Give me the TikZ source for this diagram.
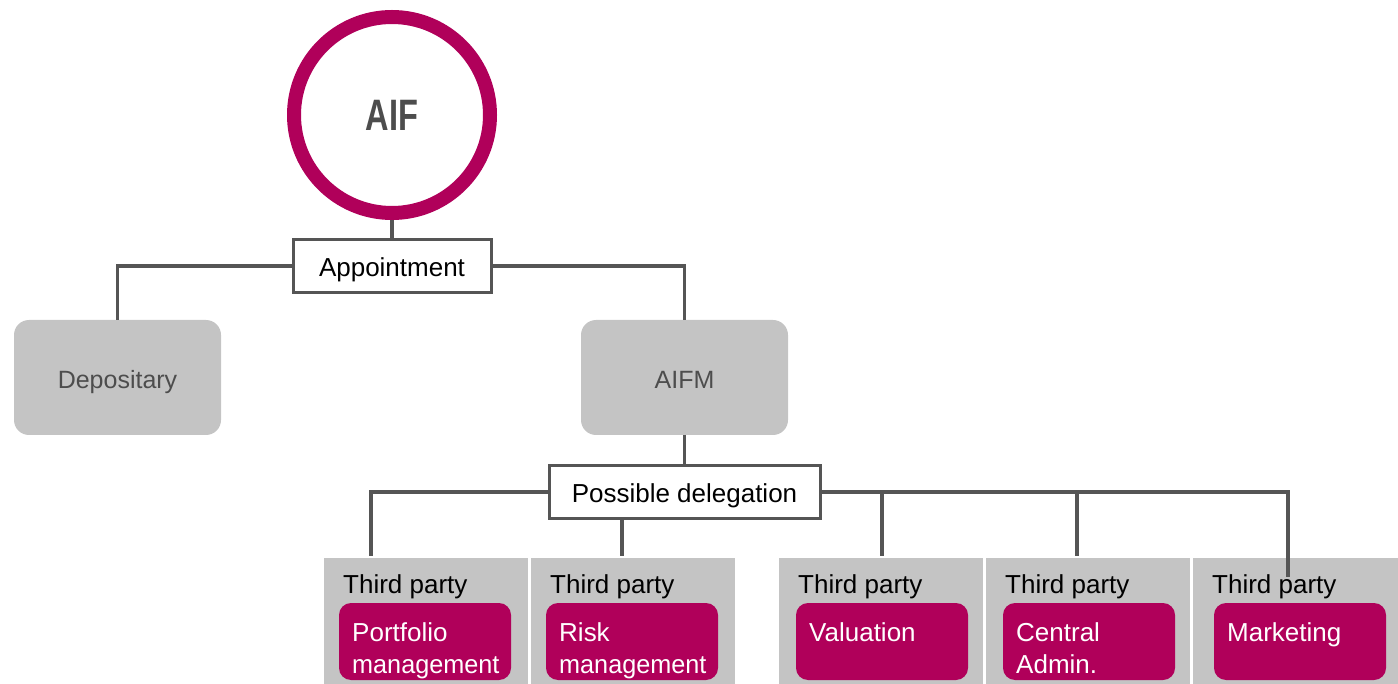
\documentclass[tikz,border=0pt]{standalone}
\usepackage{fontspec}
\usepackage{graphicx}
\setmainfont{Liberation Sans}
\definecolor{mag}{HTML}{B0005A}
\definecolor{lgray}{HTML}{C4C4C4}
\definecolor{lineg}{HTML}{555555}
\definecolor{txtg}{HTML}{4D4D4D}
\begin{document}
\begin{tikzpicture}[x=1pt,y=-1pt,
 conn/.style={draw=lineg, line width=3.5pt},
 labbox/.style={draw=lineg, line width=3pt, fill=white, inner sep=0pt, outer sep=0pt, text height=27pt, text depth=6pt, font=\fontsize{26}{32}\selectfont},
 graybox/.style={fill=lgray, rounded corners=15pt, inner sep=0pt, outer sep=0pt, minimum width=207pt, minimum height=115pt, text height=29pt, text depth=6pt, text=txtg, font=\fontsize{25}{30}\selectfont},
 tpbox/.style={fill=lgray, inner sep=0pt, outer sep=0pt, minimum width=204pt, minimum height=126pt, anchor=north west},
 tptext/.style={inner sep=0pt, anchor=base west, font=\fontsize{26}{32}\selectfont},
 magbox/.style={fill=mag, rounded corners=12pt, inner sep=0pt, outer sep=0pt, minimum width=172pt, minimum height=77pt, anchor=north west},
 magtext/.style={inner sep=0pt, anchor=north west, text=white, align=left, font=\fontsize{26}{32}\selectfont},
 ring/.style={circle, draw=mag, line width=14pt, fill=white, minimum size=196pt, inner sep=0pt, outer sep=0pt, text=txtg, font=\fontsize{44}{52}\selectfont\bfseries},
]
\useasboundingbox (0,0) rectangle (1398,684);

% top
\node[ring] (aif) at (392,115) {\scalebox{0.74}[1]{AIF}};
\node[labbox, minimum width=198pt, minimum height=53pt] (app) at (392,266) {Appointment};
\node[graybox] (dep) at (117.5,377.5) {Depositary};
\node[graybox] (aifm) at (684.5,377.5) {AIFM};
\node[labbox, minimum width=271pt, minimum height=53pt] (del) at (684.5,492) {Possible delegation};

% third party boxes
\node[tpbox] (t1) at (324,558) {};
\node[tpbox] (t2) at (531,558) {};
\node[tpbox] (t3) at (779,558) {};
\node[tpbox] (t4) at (986,558) {};
\node[tpbox, minimum width=205pt] (t5) at (1193,558) {};

\node[tptext] (l1) at (343,593) {Third party};
\node[tptext] (l2) at (550,593) {Third party};
\node[tptext] (l3) at (798,593) {Third party};
\node[tptext] (l4) at (1005,593) {Third party};
\node[tptext] (l5) at (1212,593) {Third party};

\node[magbox] (m1) at (339,603) {};
\node[magbox] (m2) at (546,603) {};
\node[magbox] (m3) at (796,603) {};
\node[magbox] (m4) at (1003,603) {};
\node[magbox] (m5) at (1214,603) {};

\node[magtext] (x1) at (352,622) {Portfolio\\\scalebox{0.97}[1]{management}};
\node[magtext] (x2) at (559,622) {Risk\\\scalebox{0.97}[1]{management}};
\node[magtext] (x3) at (809,622) {Valuation};
\node[magtext] (x4) at (1016,622) {Central\\Admin.};
\node[magtext] (x5) at (1227,622) {Marketing};

% connector ends
\coordinate (c1) at (371,556);
\coordinate (c2) at (622,556);
\coordinate (c3) at (882,556);
\coordinate (c4) at (1077,556);
\coordinate (c5) at (1288,577);

% connectors
\draw[conn, shorten <=7pt] (aif.south) -- (app.north);
\draw[conn] (app.west) -| (dep.north);
\draw[conn] (app.east) -| (aifm.north);
\draw[conn] (aifm.south) -- (del.north);
\draw[conn] (del.west) -| (c1);
\draw[conn] (del.south -| c2) -- (c2);
\draw[conn] (del.east) -| (c5);
\draw[conn] (del.east -| c3) -- (c3);
\draw[conn] (del.east -| c4) -- (c4);
\end{tikzpicture}
\end{document}
